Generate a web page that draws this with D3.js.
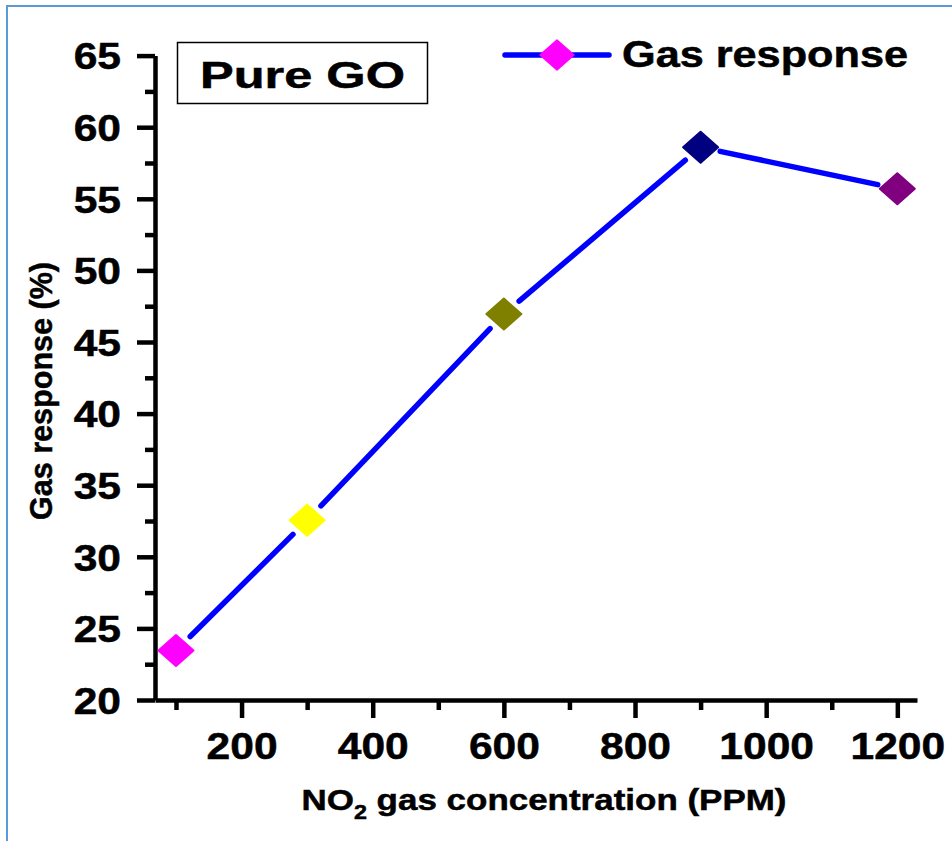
<!DOCTYPE html>
<html>
<head>
<meta charset="utf-8">
<script src="https://cdnjs.cloudflare.com/ajax/libs/d3/7.8.5/d3.min.js"></script>
<style>
  body { margin: 0; background: #fff; }
  svg { display: block; font-family: "Liberation Sans", Arial, sans-serif; font-weight: bold; }
  svg text { stroke: #000; stroke-width: 0.5px; fill: #000; }
</style>
</head>
<body>
<script>
var svg_width  = 952;
var svg_height = 841;

// data
var concentration = [100, 300, 600, 900, 1200];
var response      = [23.45, 32.55, 46.95, 58.6, 55.7];
var markerColors  = ["#ff00ff", "#ffff00", "#808000", "#000080", "#800080"];

var xMajorTicks = [200, 400, 600, 800, 1000, 1200];
var xMinorTicks = [100, 300, 500, 700, 900, 1100];
var yMajorTicks = [20, 25, 30, 35, 40, 45, 50, 55, 60, 65];
var yMinorTicks = [22.5, 27.5, 32.5, 37.5, 42.5, 47.5, 52.5, 57.5, 62.5];

var legendLabel = "Gas response";
var boxLabel    = "Pure GO";
var yTitle      = "Gas response (%)";

var svg = d3.select('body').append('svg')
            .attr('width', svg_width)
            .attr('height', svg_height);

// light blue frame round the figure
svg.append("rect")
   .attr("x", 7).attr("y", 6)
   .attr("width", 1000).attr("height", 900)
   .attr("fill", "none")
   .attr("stroke", "#5b9bd5")
   .attr("stroke-width", 2);

var x = d3.scaleLinear().domain([68, 1230]).range([155, 917]);
var y = d3.scaleLinear().domain([20, 65]).range([700, 55.6]);

var TEXT_STRETCH = 1.15;

//minor ticks first, then the major ones with labels
svg.append("g")
   .attr("transform", "translate(0,700)")
   .call(d3.axisBottom(x).tickValues(xMinorTicks).tickSize(10).tickFormat(""))
   .call(g => g.select(".domain").remove());
svg.append("g")
   .attr("transform", "translate(155,0)")
   .call(d3.axisLeft(y).tickValues(yMinorTicks).tickSize(10).tickFormat(""))
   .call(g => g.select(".domain").remove());

var xAxis = svg.append("g")
   .attr("class", "x axis")
   .attr("transform", "translate(0,700)")
   .call(d3.axisBottom(x).tickValues(xMajorTicks).tickSize(18).tickSizeOuter(0).tickFormat(d3.format("d")));

var yAxis = svg.append("g")
   .attr("class", "y axis")
   .attr("transform", "translate(155,0)")
   .call(d3.axisLeft(y).tickValues(yMajorTicks).tickSize(18).tickSizeOuter(0));

svg.selectAll(".tick line").attr("stroke", "#000").attr("stroke-width", 4.5);
svg.selectAll(".domain").attr("stroke", "#000").attr("stroke-width", 4.5);

xAxis.selectAll("text")
     .attr("x", 0).attr("y", 0).attr("dy", 0)
     .attr("transform", "translate(0,59) scale(" + TEXT_STRETCH + ",1)")
     .attr("font-size", 37).attr("font-family", null).attr("fill", "#000");

yAxis.selectAll("text")
     .attr("x", 0).attr("dy", "0.36em")
     .attr("transform", "translate(-34,0) scale(" + TEXT_STRETCH + ",1)")
     .attr("font-size", 37).attr("font-family", null).attr("fill", "#000");

// axis titles
var xt = svg.append("text")
   .attr("x", 544).attr("y", 810)
   .attr("text-anchor", "middle")
   .attr("font-size", 30)
   .attr("textLength", 485)
   .attr("lengthAdjust", "spacingAndGlyphs");
xt.append("tspan").text("NO");
xt.append("tspan").attr("font-size", 20).attr("dy", 9).text("2");
xt.append("tspan").attr("dy", -9).text(" gas concentration (PPM)");

svg.append("text")
   .attr("transform", "translate(52,391) rotate(-90)")
   .attr("text-anchor", "middle")
   .attr("font-size", 32)
   .attr("textLength", 258)
   .attr("lengthAdjust", "spacingAndGlyphs")
   .text(yTitle);

//Step 1: the line, broken a little round each marker like Origin does
var pts = concentration.map((c, i) => [x(c), y(response[i])]);
var GAP = 20;
var segs = [];
for (var i = 0; i < pts.length - 1; i++) {
    var p = pts[i], q = pts[i + 1];
    var len = Math.hypot(q[0] - p[0], q[1] - p[1]);
    var ux = (q[0] - p[0]) / len, uy = (q[1] - p[1]) / len;
    segs.push([[p[0] + ux * GAP, p[1] + uy * GAP], [q[0] - ux * GAP, q[1] - uy * GAP]]);
}
svg.append("g")
   .selectAll("path")
   .data(segs)
   .enter().append("path")
   .attr("d", d => d3.line()(d))
   .attr("stroke", "#0000ff")
   .attr("stroke-width", 5.5)
   .attr("stroke-linecap", "round")
   .attr("fill", "none");

//Step 2: diamond markers
function diamond(w, h) {
    return "M0," + (-h) + "L" + w + ",0L0," + h + "L" + (-w) + ",0Z";
}
svg.append("g")
   .selectAll("path")
   .data(concentration)
   .enter().append("path")
   .attr("transform", (d, i) => "translate(" + x(d) + "," + y(response[i]) + ")")
   .attr("d", diamond(17.5, 15.5))
   .attr("fill", (d, i) => markerColors[i])
   .attr("stroke", (d, i) => markerColors[i])
   .attr("stroke-width", 2)
   .attr("stroke-linejoin", "round");

//Step 3: legend
var legend = svg.append("g").attr("transform", "translate(557,55)");
legend.append("line")
      .attr("x1", -52).attr("x2", 52)
      .attr("stroke", "#0000ff").attr("stroke-width", 5.5)
      .attr("stroke-linecap", "round");
legend.append("path")
      .attr("d", diamond(17, 15))
      .attr("fill", markerColors[0])
      .attr("stroke", markerColors[0])
      .attr("stroke-width", 1.5)
      .attr("stroke-linejoin", "round");
svg.append("text")
   .attr("x", 622).attr("y", 67)
   .attr("font-size", 36)
   .attr("textLength", 286)
   .attr("lengthAdjust", "spacingAndGlyphs")
   .text(legendLabel);

// sample label in a box
svg.append("rect")
   .attr("x", 177.5).attr("y", 42.5)
   .attr("width", 250).attr("height", 61)
   .attr("fill", "#fff")
   .attr("stroke", "#000")
   .attr("stroke-width", 1.5);
svg.append("text")
   .attr("x", 200).attr("y", 88)
   .attr("font-size", 37)
   .attr("textLength", 205)
   .attr("lengthAdjust", "spacingAndGlyphs")
   .text(boxLabel);
</script>
</body>
</html>
